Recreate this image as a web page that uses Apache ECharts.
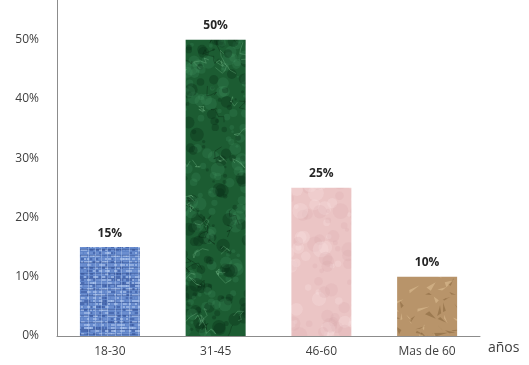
<!DOCTYPE html>
<html>
<head>
<meta charset="utf-8">
<script src="https://cdn.jsdelivr.net/npm/echarts@6/dist/echarts.min.js"></script>
<style>
  html, body { margin: 0; padding: 0; background: #fff; }
  #chart { width: 529px; height: 365px; }
</style>
</head>
<body>
<div id="chart"></div>
<script>
// Age groups and share of respondents (%)
const categories = ['18-30', '31-45', '46-60', 'Mas de 60'];
const values = [15, 50, 25, 10];
const yTicks = [0, 10, 20, 30, 40, 50];

// Deterministic pseudo-random generator for bar textures
function prng(seed) {
  let s = seed >>> 0;
  return function () {
    s = (s * 1664525 + 1013904223) >>> 0;
    return s / 4294967296;
  };
}

function makeCanvas(w, h) {
  const c = document.createElement('canvas');
  c.width = w; c.height = h;
  return c;
}

const TW = 529, TH = 365;

// Woven denim-like blue
function denimTexture() {
  const c = makeCanvas(TW, TH), g = c.getContext('2d'), r = prng(7);
  g.fillStyle = '#5f84c8'; g.fillRect(0, 0, TW, TH);
  for (let y = 0; y < TH; y += 3) {
    for (let x = 0; x < TW; x += 3) {
      const t = r();
      if (t < 0.35) g.fillStyle = 'rgba(180,202,240,0.6)';
      else if (t < 0.6) g.fillStyle = 'rgba(50,80,150,0.45)';
      else g.fillStyle = 'rgba(125,155,215,0.45)';
      g.fillRect(x, y, 2 + Math.floor(r() * 3), 2);
    }
  }
  g.strokeStyle = 'rgba(50,78,140,0.45)';
  for (let y = 0; y < TH; y += 5 + Math.floor(r() * 3)) { g.beginPath(); g.moveTo(0, y + 0.5); g.lineTo(TW, y + 0.5); g.stroke(); }
  g.strokeStyle = 'rgba(195,215,245,0.4)';
  for (let x = 0; x < TW; x += 6 + Math.floor(r() * 4)) { g.beginPath(); g.moveTo(x + 0.5, 0); g.lineTo(x + 0.5, TH); g.stroke(); }
  return c;
}

// Dark green marble
function marbleTexture() {
  const c = makeCanvas(TW, TH), g = c.getContext('2d'), r = prng(21);
  g.fillStyle = '#1c5c32'; g.fillRect(0, 0, TW, TH);
  for (let i = 0; i < 2500; i++) {
    const x = r() * TW, y = r() * TH, rad = 1 + r() * 6;
    g.fillStyle = r() > 0.5 ? 'rgba(70,150,100,0.22)' : 'rgba(8,45,22,0.35)';
    g.beginPath(); g.arc(x, y, rad, 0, Math.PI * 2); g.fill();
  }
  g.lineWidth = 1;
  for (let i = 0; i < 500; i++) {
    g.strokeStyle = r() > 0.4 ? 'rgba(130,200,150,0.3)' : 'rgba(5,35,15,0.35)';
    g.beginPath();
    let x = r() * TW, y = r() * TH;
    g.moveTo(x, y);
    for (let k = 0; k < 5; k++) { x += (r() - 0.5) * 14; y += (r() - 0.5) * 14; g.lineTo(x, y); }
    g.stroke();
  }
  return c;
}

// Soft pink mottled paper
function pinkTexture() {
  const c = makeCanvas(TW, TH), g = c.getContext('2d'), r = prng(5);
  g.fillStyle = '#ebc5c5'; g.fillRect(0, 0, TW, TH);
  for (let i = 0; i < 1500; i++) {
    g.fillStyle = r() > 0.5 ? 'rgba(250,225,225,0.3)' : 'rgba(215,165,170,0.2)';
    g.beginPath(); g.arc(r() * TW, r() * TH, 2 + r() * 6, 0, Math.PI * 2); g.fill();
  }
  return c;
}

// Crumpled brown paper
function kraftTexture() {
  const c = makeCanvas(TW, TH), g = c.getContext('2d'), r = prng(13);
  g.fillStyle = '#b8946a'; g.fillRect(0, 0, TW, TH);
  for (let i = 0; i < 1800; i++) {
    const x = r() * TW, y = r() * TH;
    g.fillStyle = r() > 0.5 ? 'rgba(232,205,160,0.45)' : 'rgba(115,82,42,0.4)';
    g.beginPath();
    g.moveTo(x, y);
    g.lineTo(x + (r() - 0.3) * 18, y + (r() - 0.6) * 14);
    g.lineTo(x + (r() - 0.5) * 10, y + (r() - 0.5) * 10);
    g.closePath(); g.fill();
  }
  return c;
}

const textures = [denimTexture(), marbleTexture(), pinkTexture(), kraftTexture()];

const chart = echarts.init(document.getElementById('chart'), null, { renderer: 'canvas' });
const font = '"Open Sans", "Liberation Sans", sans-serif';

chart.setOption({
  animation: false,
  grid: { left: 57, right: 49, top: 0, bottom: 29, containLabel: false },
  xAxis: {
    type: 'category',
    data: categories,
    name: 'años',
    nameLocation: 'end',
    nameGap: 8,
    nameTextStyle: { color: '#404040', fontSize: 14, fontFamily: font, verticalAlign: 'top', padding: [5, 0, 0, 0] },
    axisLine: { lineStyle: { color: '#8c8c8c', width: 1 } },
    axisTick: { show: false },
    axisLabel: { color: '#404040', fontSize: 12, fontFamily: font, margin: 10 }
  },
  yAxis: {
    type: 'value',
    min: 0, max: 56.7, interval: 10,
    axisLine: { show: true, lineStyle: { color: '#8c8c8c', width: 1 } },
    axisTick: { show: false },
    splitLine: { show: false },
    axisLabel: {
      color: '#404040', fontSize: 12, fontFamily: font, margin: 18,
      formatter: v => (yTicks.includes(v) ? v + '%' : '')
    }
  },
  series: [{
    type: 'bar',
    barWidth: 60,
    data: values.map((v, i) => ({
      value: v,
      itemStyle: { color: { image: textures[i], repeat: 'no-repeat' } }
    })),
    label: {
      show: true,
      position: 'top',
      distance: 8,
      color: '#262626',
      fontWeight: 'bold',
      fontSize: 12,
      fontFamily: font,
      formatter: p => p.value + '%'
    }
  }]
});
</script>
</body>
</html>
